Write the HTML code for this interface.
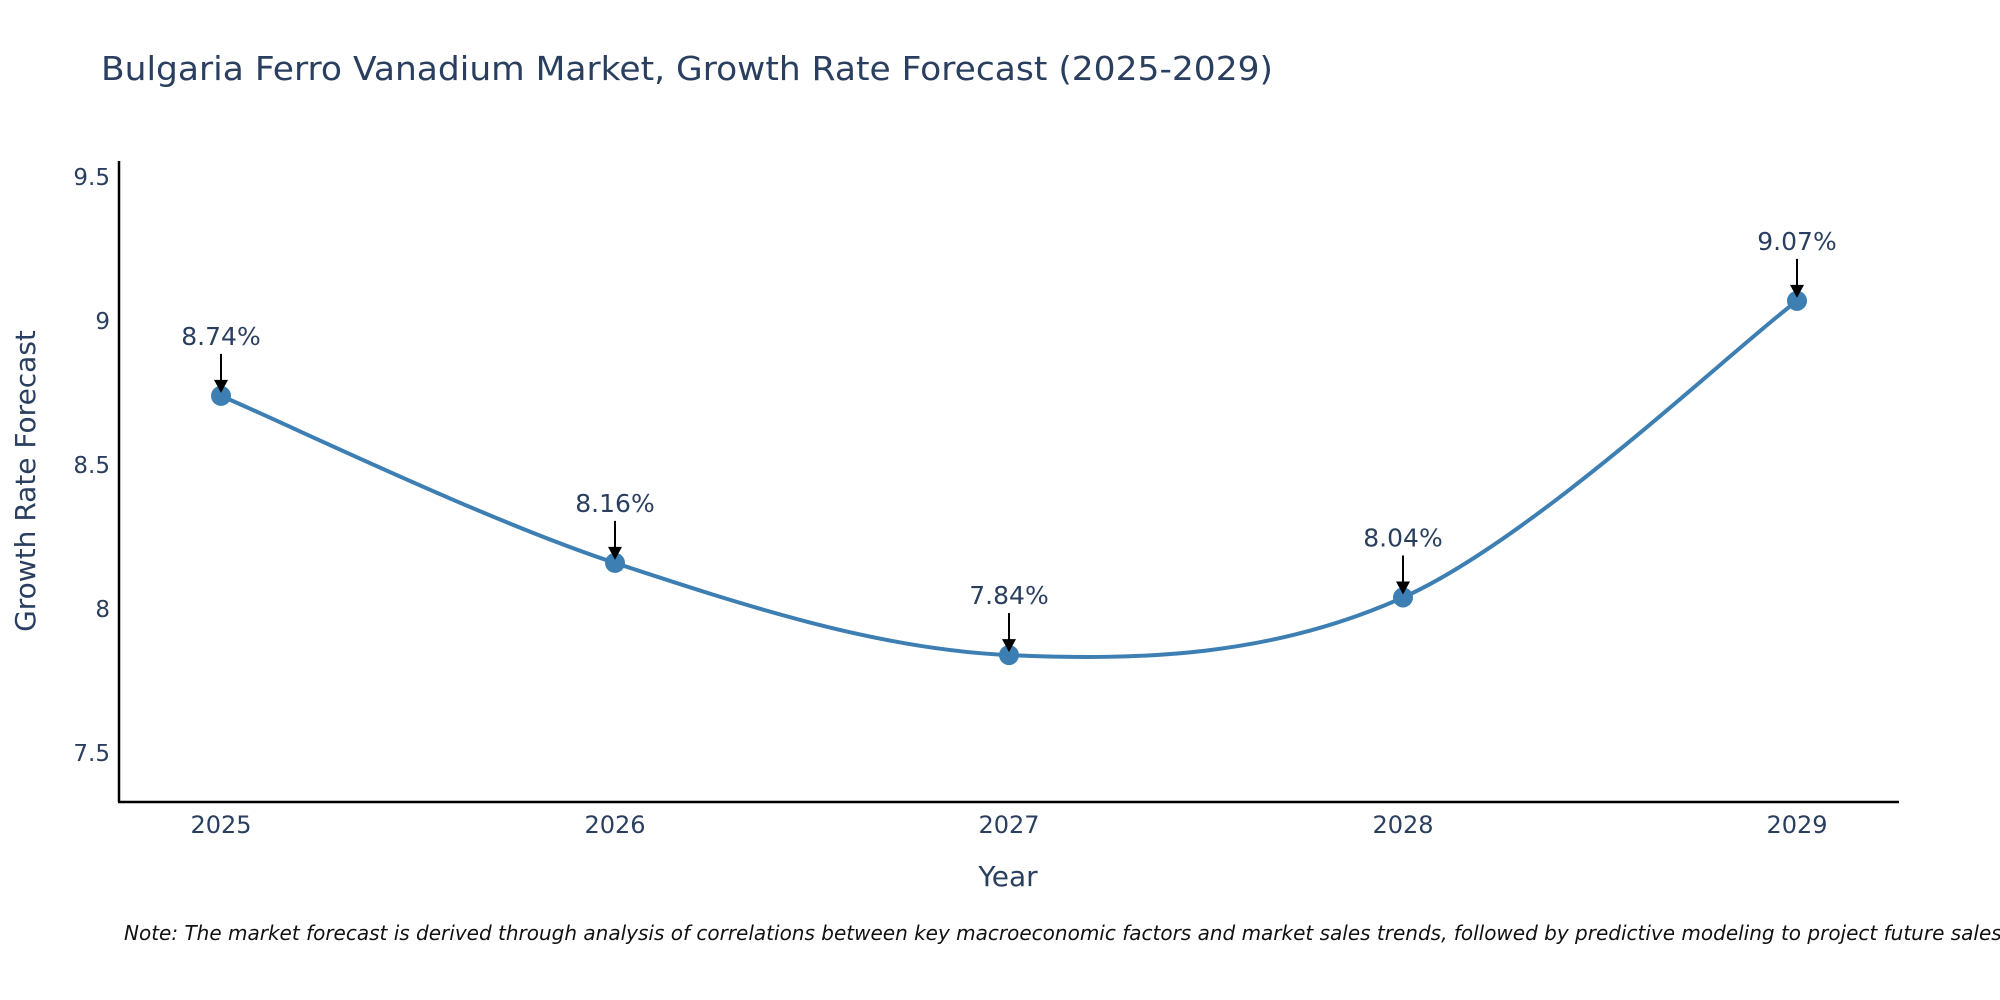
<!DOCTYPE html>
<html><head><meta charset="utf-8"><style>
html,body{margin:0;padding:0;background:#fff;}
svg{display:block;font-family:"DejaVu Sans","Liberation Sans",sans-serif;}
</style></head><body>
<svg id="chart" width="2000" height="1000" viewBox="0 0 2000 1000" xmlns="http://www.w3.org/2000/svg">
<text x="101" y="80" font-size="33" fill="#2a3f5f" textLength="1172" lengthAdjust="spacingAndGlyphs">Bulgaria Ferro Vanadium Market, Growth Rate Forecast (2025-2029)</text>
<g id="yticks"></g>
<g id="xticks"></g>
<text transform="translate(35,481) rotate(-90)" text-anchor="middle" font-size="28" fill="#2a3f5f">Growth Rate Forecast</text>
<text x="1008" y="886" text-anchor="middle" font-size="28" fill="#2a3f5f">Year</text>
<path id="line" fill="none" stroke="#3d7fb3" stroke-width="4"></path>
<g id="points"></g>
<g id="annots"></g>
<line x1="119" y1="161" x2="119" y2="802" stroke="#000" stroke-width="2.5"/>
<line x1="118" y1="802" x2="1899" y2="802" stroke="#000" stroke-width="2.5"/>
<text x="124" y="940" font-size="20" font-style="italic" fill="#111">Note: The market forecast is derived through analysis of correlations between key macroeconomic factors and market sales trends, followed by predictive modeling to project future sales.</text>
</svg>
<script>
const years = [2025, 2026, 2027, 2028, 2029];
const growth = [8.74, 8.16, 7.84, 8.04, 9.07];
const labels = ["8.74%", "8.16%", "7.84%", "8.04%", "9.07%"];
const yTickVals = [7.5, 8, 8.5, 9, 9.5];
const yTickLabels = ["7.5", "8", "8.5", "9", "9.5"];

const NS = "http://www.w3.org/2000/svg";
function xs(v){ return 221 + (v - 2025) * 394; }
function ys(v){ return 753 - (v - 7.5) * 288; }
function mk(tag, attrs, parent){ const e = document.createElementNS(NS, tag); for (const k in attrs) e.setAttribute(k, attrs[k]); parent.appendChild(e); return e; }

const yt = document.getElementById('yticks');
yTickVals.forEach((v, i) => {
  const t = mk('text', {x: 110, y: ys(v) + 8, 'text-anchor': 'end', 'font-size': 23, fill: '#2a3f5f'}, yt);
  
  
  t.textContent = yTickLabels[i];
});
const xt = document.getElementById('xticks');
years.forEach(y => {
  const t = mk('text', {x: xs(y), y: 833, 'text-anchor': 'middle', 'font-size': 24, fill: '#2a3f5f'}, xt);
  
  
  t.textContent = String(y);
});

const pts = years.map((y, i) => [xs(y), ys(growth[i])]);
let d = 'M' + pts[0][0] + ',' + pts[0][1];
for (let i = 0; i < pts.length - 1; i++) {
  const p0 = pts[Math.max(i - 1, 0)], p1 = pts[i], p2 = pts[i + 1], p3 = pts[Math.min(i + 2, pts.length - 1)];
  const c1 = [p1[0] + (p2[0] - p0[0]) / 6, p1[1] + (p2[1] - p0[1]) / 6];
  const c2 = [p2[0] - (p3[0] - p1[0]) / 6, p2[1] - (p3[1] - p1[1]) / 6];
  d += ' C' + c1[0] + ',' + c1[1] + ' ' + c2[0] + ',' + c2[1] + ' ' + p2[0] + ',' + p2[1];
}
document.getElementById('line').setAttribute('d', d);

const pg = document.getElementById('points');
const ag = document.getElementById('annots');
pts.forEach((p, i) => {
  const c = mk('circle', {cx: p[0], cy: p[1], r: 10, fill: '#3d7fb3'}, pg);
  
  
  const l = mk('line', {x1: p[0], y1: p[1] - 42, x2: p[0], y2: p[1] - 14, stroke: '#000', 'stroke-width': 2}, ag);
  
  
  const h = mk('polygon', {points: (p[0] - 7) + ',' + (p[1] - 16) + ' ' + (p[0] + 7) + ',' + (p[1] - 16) + ' ' + p[0] + ',' + (p[1] - 3), fill: '#000'}, ag);
  
  
  const t = mk('text', {x: p[0], y: p[1] - 51, 'text-anchor': 'middle', 'font-size': 25, fill: '#2a3f5f'}, ag);
  
  
  t.textContent = labels[i];
});
</script>
</body></html>
